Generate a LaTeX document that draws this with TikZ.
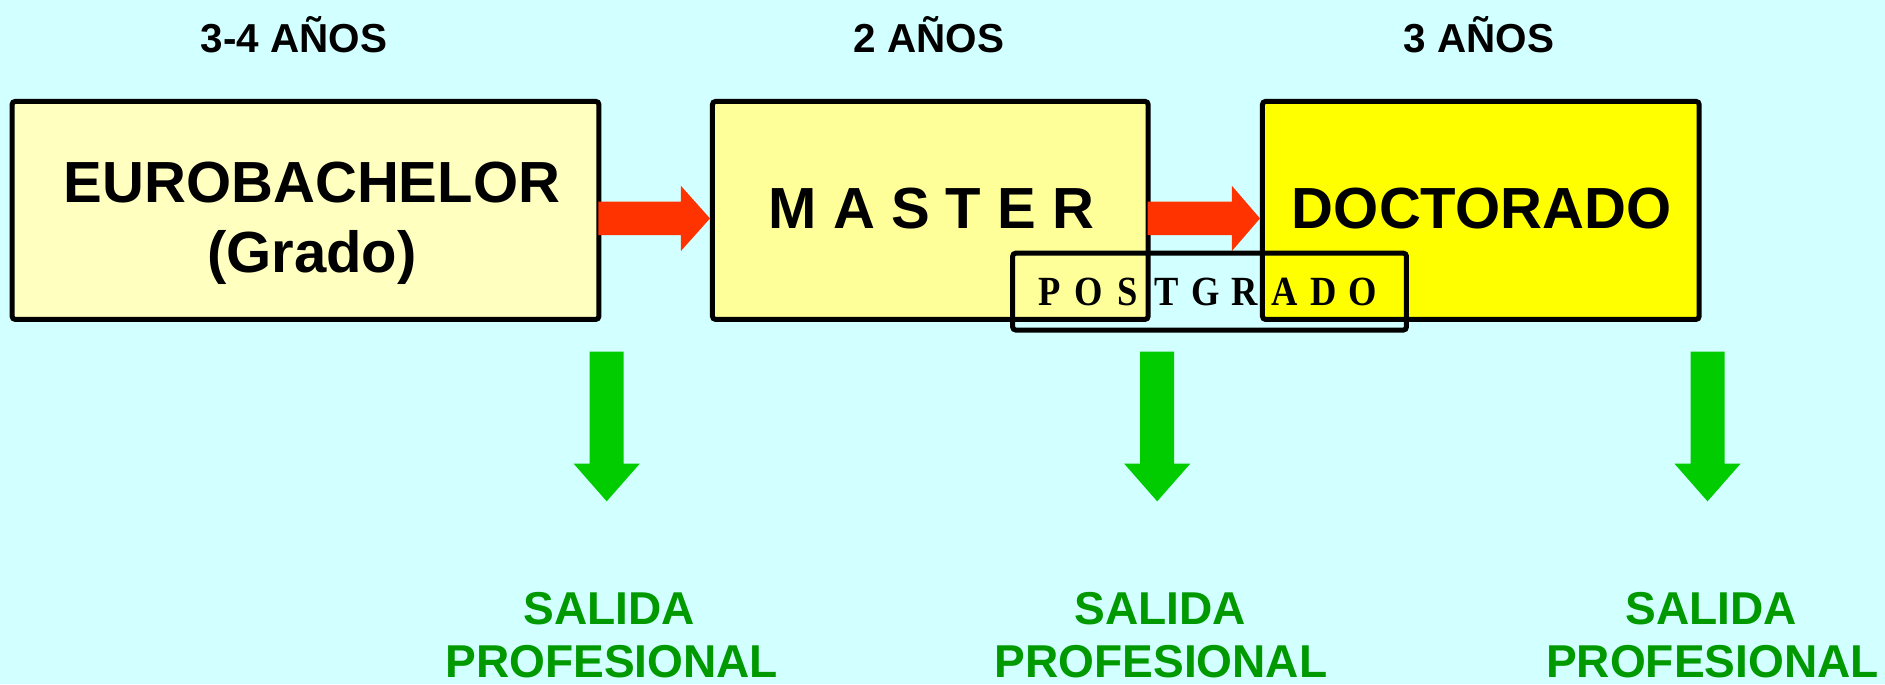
\documentclass[tikz,border=0pt]{standalone}
\usepackage{fontspec}
\setmainfont{Liberation Sans}
\newfontfamily\postfont{Liberation Serif}
\usetikzlibrary{calc}
\definecolor{bgc}{HTML}{D2FFFF}
\definecolor{boxA}{HTML}{FFFFC0}
\definecolor{boxB}{HTML}{FFFF99}
\definecolor{boxC}{HTML}{FFFF00}
\definecolor{redar}{HTML}{FF3300}
\definecolor{greenar}{HTML}{00CC00}
\definecolor{greentx}{HTML}{009900}
\newcommand\pgl[1]{\makebox[3.91mm]{\scalebox{0.88}[1]{#1}}}
\begin{document}
\begin{tikzpicture}[x=0.01cm,y=-0.01cm,
  stage/.style={draw=black, line width=0.5mm, rounded corners=0.3mm,
    minimum height=2.178cm, inner sep=0pt},
  postbox/.style={draw=black, line width=0.5mm, rounded corners=0.3mm,
    minimum width=3.935cm, minimum height=0.768cm, inner sep=0pt},
  title/.style={anchor=base, inner sep=0pt,
    font=\fontsize{11.5pt}{13pt}\selectfont\bfseries},
  boxtxt/.style={anchor=base, inner sep=0pt,
    font=\fontsize{16.5pt}{20pt}\selectfont\bfseries},
  posttxt/.style={anchor=base, inner sep=0pt,
    font=\fontsize{11.8pt}{13pt}\postfont\bfseries},
  exittxt/.style={anchor=base, inner sep=0pt, text=greentx,
    font=\fontsize{13.1pt}{15.5pt}\selectfont\bfseries},
  redarrow/.style={fill=redar},
  greenarrow/.style={fill=greenar}
]
\clip (0,0) rectangle (1885,684);
\useasboundingbox (0,0) rectangle (1885,684);
\fill[bgc] (0,0) rectangle (1885,684);

% titles
\node[title] (t1) at (294,52.5) {3-4 AÑOS};
\node[title] (t2) at (929,52.5) {2 AÑOS};
\node[title] (t3) at (1479,52.5) {3 AÑOS};

% stage boxes
\node[stage, fill=boxA, minimum width=5.864cm] (b1) at (305.5,210.4) {};
\node[stage, fill=boxB, minimum width=4.354cm] (b2) at (930.3,210.4) {};
\node[stage, fill=boxC, minimum width=4.364cm] (b3) at (1480.8,210.4) {};

\node[boxtxt] (euro) at (312,202) {EUROBACHELOR};
\node[boxtxt] (grado) at (312,272) {(Grado)};
\node[boxtxt] (master) at (931.5,228.3) {M A S T E R};
\node[boxtxt] (doct) at (1481.6,228.3) {DOCTORADO};

% red arrows
\coordinate (r1s) at ($(b1.east)+(0,8)$);
\coordinate (r1t) at ($(b2.west)+(0,8)$);
\fill[redarrow] ($(r1s)+(-3,-16.7)$) -- ($(r1t)+(-29,-16.7)$) -- ($(r1t)+(-29,-32.5)$)
  -- (r1t) -- ($(r1t)+(-29,32.5)$) -- ($(r1t)+(-29,16.7)$) -- ($(r1s)+(-3,16.7)$) -- cycle;
\coordinate (r2s) at ($(b2.east)+(0,8)$);
\coordinate (r2t) at ($(b3.west)+(0,8)$);
\fill[redarrow] ($(r2s)+(-3,-16.7)$) -- ($(r2t)+(-28,-16.7)$) -- ($(r2t)+(-28,-32.5)$)
  -- (r2t) -- ($(r2t)+(-28,32.5)$) -- ($(r2t)+(-28,16.7)$) -- ($(r2s)+(-3,16.7)$) -- cycle;

% postgrado box
\node[postbox] (post) at (1209.55,291.6) {};
\node[posttxt] (posttext) at (1206,305.5)
  {\pgl{P}\pgl{O}\pgl{S}\pgl{T}\pgl{G}\pgl{R}\pgl{A}\pgl{D}\pgl{O}};

% exit texts
\node[exittxt] (sal1) at (609,624) {SALIDA};
\node[exittxt] (prof1) at (611.7,677.5) {PROFESIONAL};
\node[exittxt] (sal2) at (1160,624) {SALIDA};
\node[exittxt] (prof2) at (1161,677.5) {PROFESIONAL};
\node[exittxt] (sal3) at (1711,624) {SALIDA};
\node[exittxt] (prof3) at (1712.5,677.5) {PROFESIONAL};

% green arrows
\foreach \g/\x in {g1/606.7, g2/1157.2, g3/1707.5} {
  \coordinate (\g) at (\x,351.7);
  \fill[greenarrow] ($(\g)+(-17,0)$) -- ($(\g)+(17,0)$) -- ($(\g)+(17,112)$)
    -- ($(\g)+(33,112)$) -- ($(\g)+(0,149.6)$) -- ($(\g)+(-33,112)$)
    -- ($(\g)+(-17,112)$) -- cycle;
}
\end{tikzpicture}
\end{document}
